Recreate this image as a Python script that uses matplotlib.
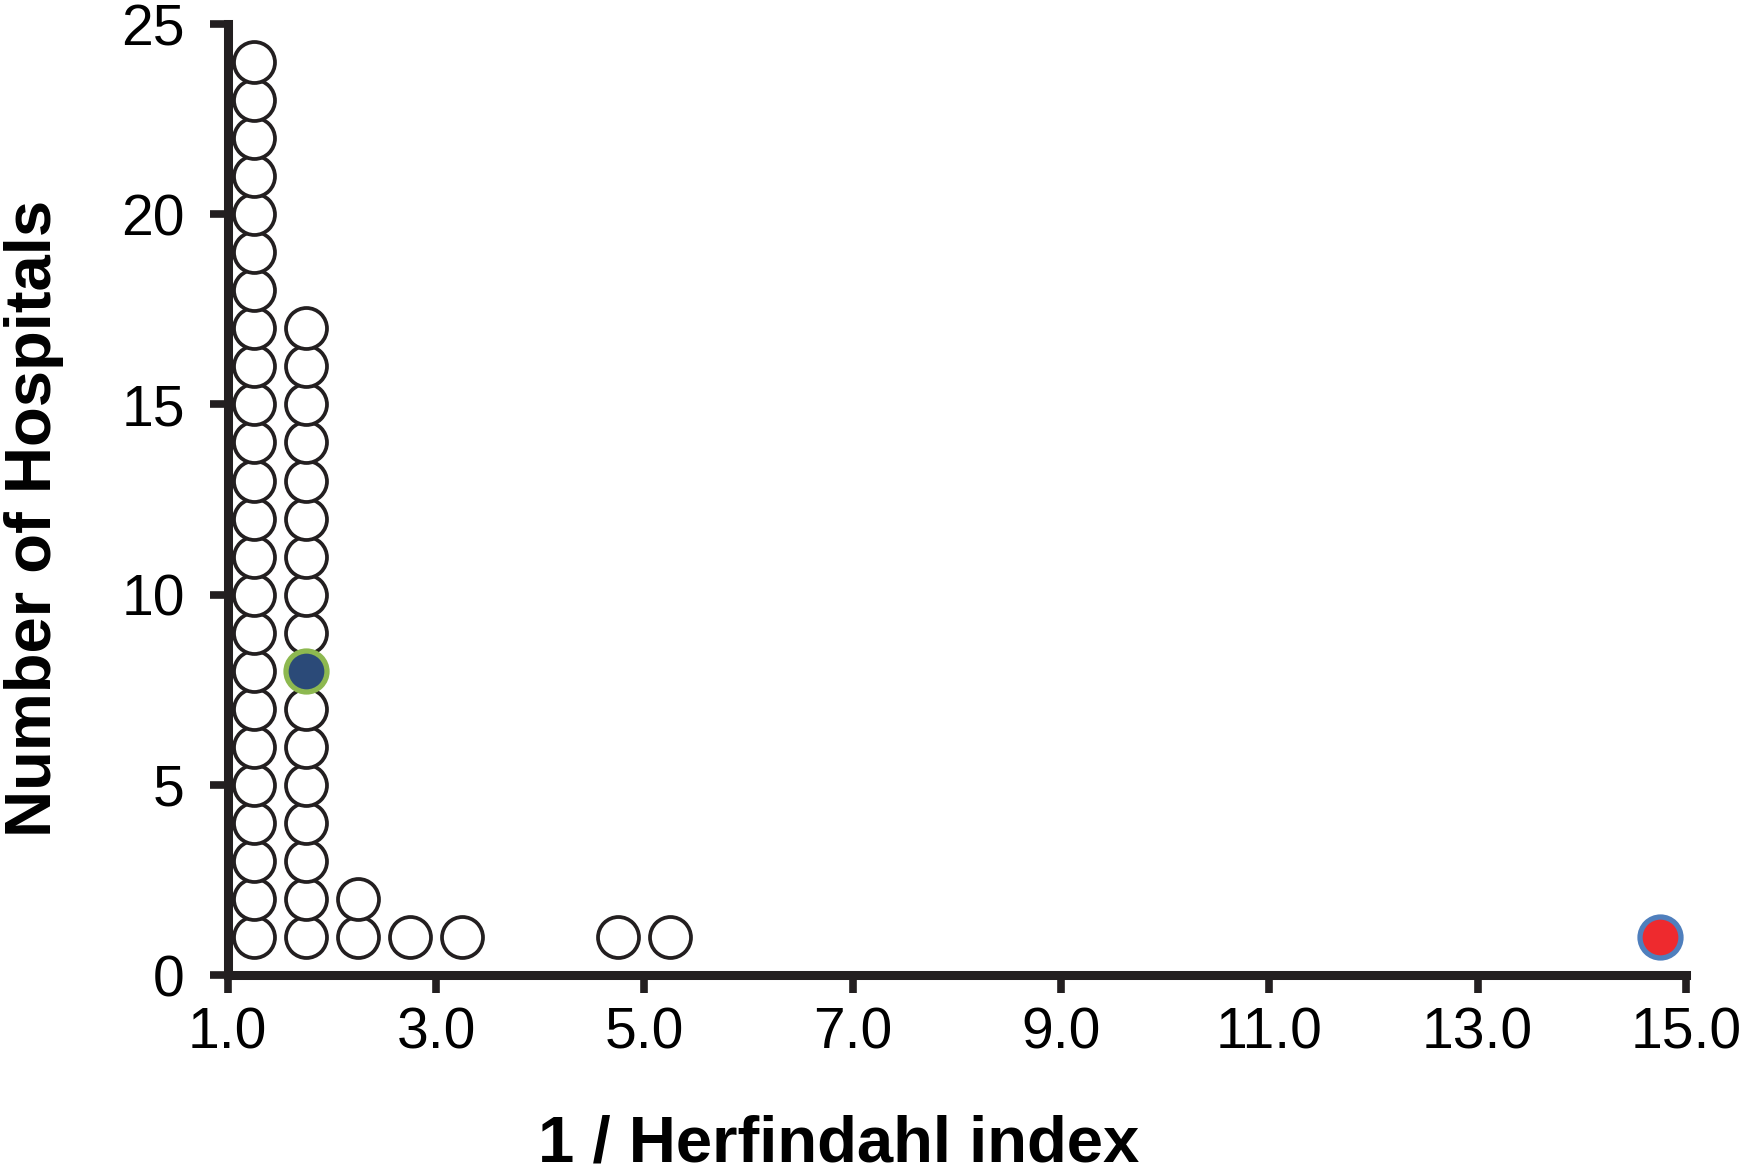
import matplotlib
matplotlib.use('Agg')
import matplotlib.pyplot as plt
from matplotlib.ticker import FormatStrFormatter

plt.rcParams['font.family'] = ['Liberation Sans', 'DejaVu Sans']

# column centres (1/Herfindahl bins) and how many hospitals are stacked in each
bin_x = [1.25, 1.75, 2.25, 2.75, 3.25, 4.75, 5.25, 14.75]
bin_counts = [24, 17, 2, 1, 1, 1, 1, 0]

# highlighted hospitals
blue_x, blue_y = 1.75, 8
red_x, red_y = 14.75, 1

xticks = [1.0, 3.0, 5.0, 7.0, 9.0, 11.0, 13.0, 15.0]
yticks = [0, 5, 10, 15, 20, 25]

fig = plt.figure(figsize=(17.39, 11.74), dpi=100)
ax = fig.add_axes([0.131, 0.1695, 0.8385, 0.81])

xs, ys = [], []
for x, n in zip(bin_x, bin_counts):
    for k in range(1, n + 1):
        if x == blue_x and k == blue_y:
            continue
        xs.append(x)
        ys.append(k)

ax.plot(xs, ys, 'o', ms=29.5, mfc='white', mec='#231f20', mew=2.7, zorder=3, clip_on=False)
ax.plot([blue_x], [blue_y], 'o', ms=29.5, mfc='#2b4a78', mec='#8db850', mew=3.8, zorder=4, clip_on=False)
ax.plot([red_x], [red_y], 'o', ms=29.5, mfc='#ee2a2e', mec='#4f7fbd', mew=3.8, zorder=4, clip_on=False)

ax.set_xlim(1.0, 15.0)
ax.set_ylim(0, 25)
ax.set_xticks(xticks)
ax.set_yticks(yticks)
ax.xaxis.set_major_formatter(FormatStrFormatter('%.1f'))

for side in ['top', 'right']:
    ax.spines[side].set_visible(False)
for side in ['left', 'bottom']:
    ax.spines[side].set_linewidth(6.5)
    ax.spines[side].set_color('#231f20')
    ax.spines[side].set_capstyle('projecting')

ax.tick_params(direction='out', length=13, width=5.5, color='#231f20', labelsize=41)
ax.tick_params(axis='x', pad=10)
ax.tick_params(axis='y', pad=18)

ax.set_xlabel('1 / Herfindahl index', fontsize=47, fontweight='bold', va='center')
ax.set_ylabel('Number of Hospitals', fontsize=47, fontweight='bold', va='center')
ax.xaxis.set_label_coords(0.419, -0.178)
ax.yaxis.set_label_coords(-0.133, 0.48)

fig.savefig('out.png', dpi=100)
